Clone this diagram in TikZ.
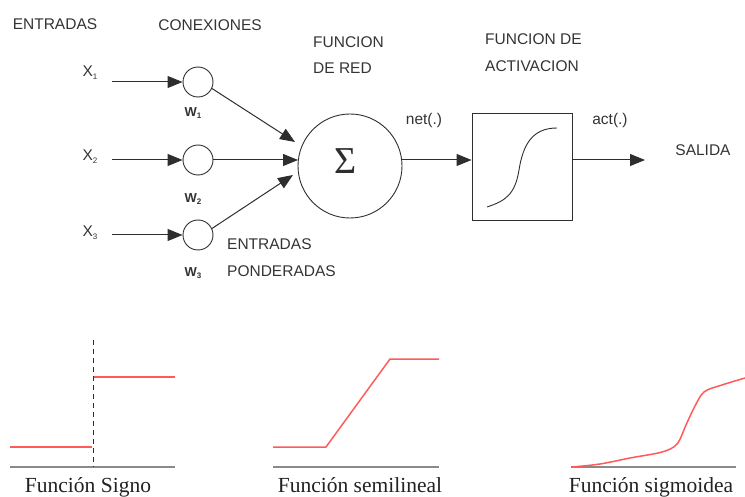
\documentclass[tikz,border=0pt]{standalone}
\usepackage{fontspec}
\setmainfont{Liberation Sans}
\newfontfamily\capfont{Liberation Serif}
\usetikzlibrary{arrows.meta}
\definecolor{ink}{HTML}{2E2E2E}
\definecolor{txt}{HTML}{333333}
\definecolor{captxt}{HTML}{222222}
\definecolor{redline}{HTML}{FF5A5A}
\definecolor{axisgray}{HTML}{8A8A8A}
\newcommand{\xsub}[2]{#1\raisebox{-0.35ex}{\fontsize{8}{8}\selectfont #2}}
\begin{document}
\begin{tikzpicture}[x=1pt,y=-1pt,
  lbl/.style={font=\fontsize{15.5}{15.5}\selectfont, text=txt, inner sep=0pt},
  lbltwo/.style={font=\fontsize{15.5}{26.5}\selectfont, text=txt, inner sep=0pt, align=left, anchor=west},
  wlbl/.style={font=\bfseries\fontsize{13}{13}\selectfont, text=txt, inner sep=0pt},
  neuron/.style={circle, draw=ink, line width=0.9pt, minimum size=30pt, inner sep=0pt},
  conn/.style={draw=ink, line width=1pt, -{Triangle[length=15pt,width=12pt]}},
  thinline/.style={draw=ink, line width=0.9pt},
  redcurve/.style={draw=redline, line width=1.5pt},
  axisline/.style={draw=axisgray, line width=1.4pt},
  captext/.style={font=\capfont\fontsize{21.5}{21.5}\selectfont, text=captxt, inner sep=0pt, anchor=base}
]
\useasboundingbox (0,0) rectangle (745,497);

% headings
\node[lbl] (hin) at (55,24.5) {ENTRADAS};
\node[lbl] (hcon) at (210,25) {CONEXIONES};
\node[lbltwo] (hred) at (313,55) {FUNCION\\DE RED};
\node[lbltwo] (hact) at (485,52.5) {FUNCION DE\\ACTIVACION};

% inputs
\node[lbl] (x1) at (90,73) {\xsub{X}{1}};
\node[lbl] (x2) at (90,157) {\xsub{X}{2}};
\node[lbl] (x3) at (90,233) {\xsub{X}{3}};
\coordinate (s1) at (112,82);
\coordinate (s2) at (112,160);
\coordinate (s3) at (112,235);

% weights
\node[neuron] (w1) at (198,82) {};
\node[neuron] (w2) at (198,160) {};
\node[neuron] (w3) at (198,235) {};
\node[wlbl] (lw1) at (193,113) {\xsub{W}{1}};
\node[wlbl] (lw2) at (193,199) {\xsub{W}{2}};
\node[wlbl] (lw3) at (193,273) {\xsub{W}{3}};

\draw[conn] (s1) -- (w1);
\draw[conn] (s2) -- (w2);
\draw[conn] (s3) -- (w3);

% sum
\node[circle, draw=ink, line width=0.9pt, minimum size=104pt, inner sep=0pt] (sum) at (350,166) {};
\node[font=\capfont\fontsize{38}{38}\selectfont, text=ink, inner sep=0pt] (sig) at (346,161) {Σ};
\coordinate (t1) at (295,142);
\coordinate (t2) at (298,160);
\coordinate (t3) at (293,175);
\draw[conn] (w1.-25) -- (t1);
\draw[conn] (w2.east) -- (t2);
\draw[conn] (w3.25) -- (t3);

\node[lbltwo] (pond) at (227,257.5) {ENTRADAS\\PONDERADAS};

% activation box
\node[draw=ink, line width=0.9pt, minimum width=100pt, minimum height=107pt, inner sep=0pt] (act) at (522,166.5) {};
\draw[thinline] (487,207) .. controls (505,201) and (515,195) .. (519,170) .. controls (523,145) and (532,128) .. (557,128);

\node[lbl] (net) at (424,120) {net(.)};
\node[lbl] (actl) at (610,120) {act(.)};
\node[lbl] (sal) at (703,150) {SALIDA};

\coordinate (n1) at (401.7,160);
\coordinate (out) at (645,160);
\draw[conn] (n1) -- (n1 -| act.west);
\draw[conn] (out -| act.east) -- (out);

% Funcion signo
\draw[axisline] (10,467) -- (175,467);
\draw[draw=ink, line width=0.8pt, dash pattern=on 5pt off 4pt] (93,340) -- (93,467);
\draw[redcurve] (10,447) -- (92,447);
\draw[redcurve] (94,377) -- (175,377);
\node[captext] (c1) at (88,492) {Función Signo};

% Funcion semilineal
\draw[axisline] (273,467) -- (439,467);
\draw[redcurve] (273,447) -- (326,447) -- (390,359) -- (439,359);
\node[captext] (c2) at (360,492) {Función semilineal};

% Funcion sigmoidea
\draw[axisline] (571,467) -- (736,467);
\draw[redcurve] plot[smooth, tension=0.55] coordinates {(572,467) (600,464) (630,458) (662,452) (677,444) (686,425) (694,408) (704,392) (722,385) (745,378)};
\node[captext] (c3) at (651,492) {Función sigmoidea};
\end{tikzpicture}
\end{document}
